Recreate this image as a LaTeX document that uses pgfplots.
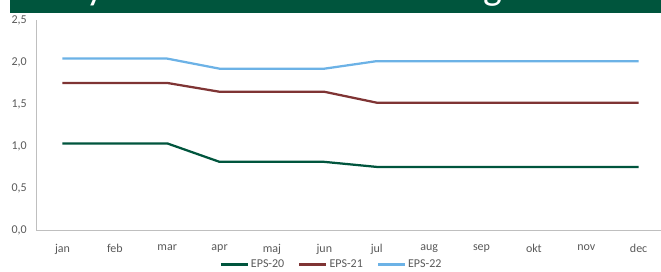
\documentclass[border=0pt]{standalone}
\usepackage{fontspec}
\setmainfont{Carlito}
\usepackage{pgfplots}
\pgfplotsset{compat=1.18}
\definecolor{gr}{HTML}{00553D}
\definecolor{rd}{HTML}{7F3434}
\definecolor{bl}{HTML}{6CB2E6}
\definecolor{tk}{HTML}{595959}
\definecolor{axc}{HTML}{BFBFBF}
\begin{document}
\begin{tikzpicture}
\path (0pt,0pt) rectangle (661pt,-269pt);
\fill[gr] (10pt,0pt) rectangle (661pt,-13pt);
\begin{scope}[overlay]
\clip (10pt,0pt) rectangle (661pt,-13pt);
\node[anchor=base west, inner sep=0pt, text=white, font=\fontsize{40}{44}\selectfont] at (14pt,1pt) {Analytikernes EPS-forventninger};
\end{scope}
\begin{axis}[
  at={(36.3pt,-230pt)}, anchor=south west,
  scale only axis, width=624.7pt, height=210pt,
  xmin=-0.5, xmax=11.42, ymin=0, ymax=2.5,
  ytick={0,0.5,1,1.5,2,2.5},
  xtick={0,...,11},
  xticklabels={jan,feb,mar,apr,maj,jun,jul,aug,sep,okt,nov,dec},
  axis x line*=bottom, axis y line*=left,
  axis line style={axc, line width=0.75pt},
  major tick length=0pt,
  tick style={draw=none},
  ticklabel style={font=\fontsize{12}{14}\selectfont, text=tk},
  yticklabel style={xshift=-6pt},
  xticklabel style={yshift=-11pt},
  /pgf/number format/.cd, use comma, fixed, fixed zerofill, precision=1, assume math mode=true,
  /pgfplots/.cd,
  legend columns=3,
  legend style={at={(0.473,-0.165)}, anchor=center, draw=none, fill=none,
    font=\fontsize{12}{14}\selectfont, text=tk, inner sep=0pt,
    /tikz/every even column/.append style={column sep=12pt}},
  legend image code/.code={\draw[#1] (0pt,0pt) -- (27pt,0pt);},
  every axis plot/.append style={line width=2.25pt},
]
\addplot[gr, mark=none] coordinates {(0,1.03)(1,1.03)(2,1.03)(3,0.81)(4,0.81)(5,0.81)(6,0.75)(7,0.75)(8,0.75)(9,0.75)(10,0.75)(11,0.75)};
\addplot[rd, mark=none] coordinates {(0,1.75)(1,1.75)(2,1.75)(3,1.645)(4,1.645)(5,1.645)(6,1.515)(7,1.515)(8,1.515)(9,1.515)(10,1.515)(11,1.515)};
\addplot[bl, mark=none] coordinates {(0,2.04)(1,2.04)(2,2.04)(3,1.92)(4,1.92)(5,1.92)(6,2.01)(7,2.01)(8,2.01)(9,2.01)(10,2.01)(11,2.01)};
\legend{EPS-20,EPS-21,EPS-22}
\end{axis}
\end{tikzpicture}
\end{document}
